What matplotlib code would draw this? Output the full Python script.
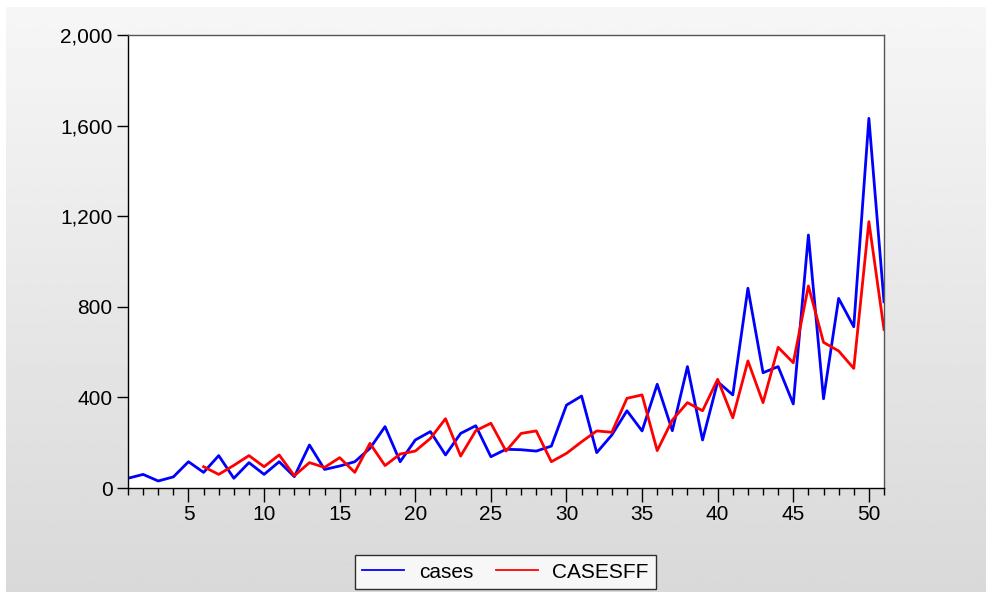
import numpy as np
import matplotlib
matplotlib.use("Agg")
import matplotlib.pyplot as plt
from matplotlib.ticker import FuncFormatter, MultipleLocator

plt.rcParams['font.family'] = ['Liberation Sans', 'DejaVu Sans']

# weekly observations 1..51
obs = np.arange(1, 52)

cases = [43, 60, 31, 49, 116, 69, 143, 43, 112, 60,
         116, 50, 190, 82, 97, 116, 175, 271, 116, 212,
         249, 146, 241, 275, 138, 171, 169, 163, 185, 366,
         406, 156, 234, 341, 252, 458, 253, 536, 212, 469,
         411, 882, 509, 536, 371, 1117, 394, 837, 712, 1632,
         822]

# forecast series starts at obs 6
casesff_obs = np.arange(6, 52)
casesff = [94, 60, 100, 143, 94, 146, 54, 112, 91, 134,
           69, 197, 99, 150, 163, 219, 306, 141, 253, 286,
           163, 241, 252, 116, 153, 204, 252, 246, 396, 411,
           165, 300, 377, 341, 480, 310, 561, 377, 621, 553,
           892, 643, 605, 528, 1176, 700]

W, H = 987, 592
fig = plt.figure(figsize=(W / 100, H / 100), dpi=100)
fig.patch.set_facecolor('white')

# gray gradient panel behind everything
bg = fig.add_axes([6 / W, 0, 1 - 6 / W, 1 - 7 / H])
bg.set_axis_off()
grad = np.linspace(0.965, 0.85, 256).reshape(-1, 1)
bg.imshow(grad, aspect='auto', cmap='gray', vmin=0, vmax=1,
          extent=[0, 1, 0, 1], interpolation='bilinear')
bg.set_zorder(0)

left, right, top, bottom = 128, 884, 35, 488
ax = fig.add_axes([left / W, 1 - bottom / H, (right - left) / W, (bottom - top) / H])
ax.set_zorder(1)
ax.set_facecolor('white')

ax.plot(obs, cases, color='#0000ff', lw=2.0, label='cases')
ax.plot(casesff_obs, casesff, color='#ff0000', lw=2.0, label='CASESFF')

ax.set_xlim(1, 51)
ax.set_ylim(0, 2000)
ax.set_xticks([5, 10, 15, 20, 25, 30, 35, 40, 45, 50])
ax.xaxis.set_minor_locator(MultipleLocator(1))
ax.set_yticks([0, 400, 800, 1200, 1600, 2000])
ax.yaxis.set_major_formatter(FuncFormatter(lambda v, p: f"{int(v):,}"))

ax.tick_params(axis='x', which='major', length=10, width=1, direction='out',
               labelsize=15, pad=2)
ax.tick_params(axis='x', which='minor', length=5, width=1, direction='out')
ax.tick_params(axis='y', which='major', length=8, width=1, direction='out',
               labelsize=15, pad=3)

for s in ['left', 'bottom']:
    ax.spines[s].set_color('black')
    ax.spines[s].set_linewidth(1.0)
for s in ['top', 'right']:
    ax.spines[s].set_color('#555555')
    ax.spines[s].set_linewidth(1.0)

leg = fig.legend(loc='center', bbox_to_anchor=(505.5 / W, 1 - 572 / H),
                 ncol=2, fontsize=15, frameon=True, fancybox=False,
                 edgecolor='black', handlelength=2.0, handletextpad=0.7,
                 columnspacing=1.1, borderpad=0.35)
leg.get_frame().set_linewidth(1.0)
for l in leg.get_lines():
    l.set_linewidth(1.3)

fig.savefig('out.png', dpi=100)
